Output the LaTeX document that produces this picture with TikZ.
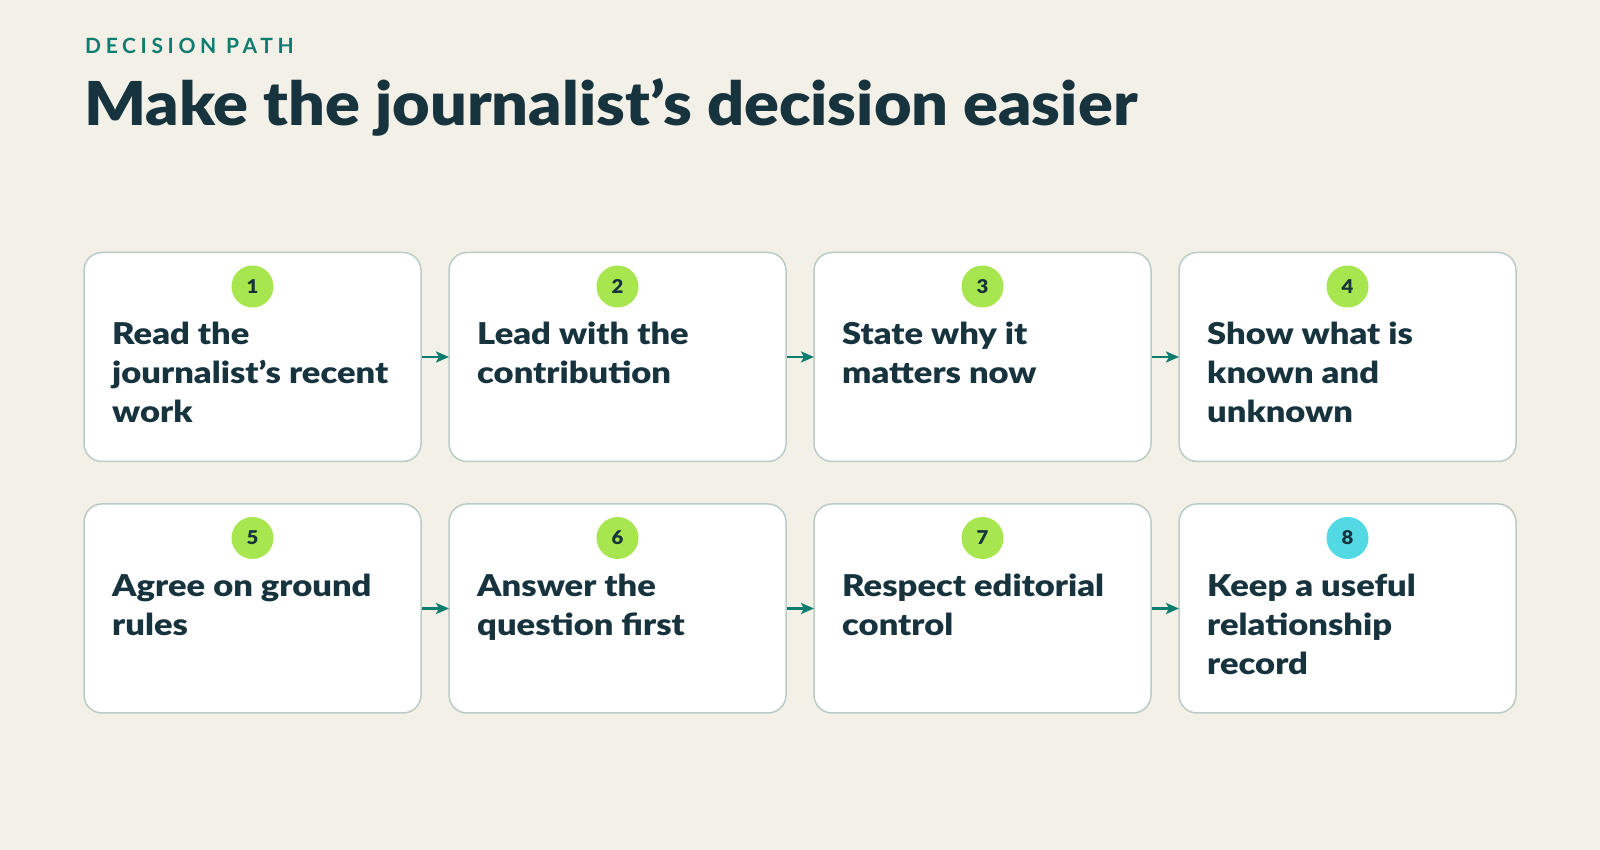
\documentclass[tikz,border=0pt]{standalone}
\usepackage{fontspec}
\setmainfont{Lato}
\newfontfamily\kickfont[LetterSpace=22]{Lato Bold}
\IfFontExistsTF{Lato Black}
  {\newfontfamily\heavy[FakeStretch=1.15]{Lato Black}
   \newfontfamily\headfont[FakeStretch=1.07]{Lato Black}}
  {\newfontfamily\heavy[FakeStretch=1.225]{Lato Bold}
   \newfontfamily\headfont[FakeStretch=1.14]{Lato Bold}}
\usetikzlibrary{chains,arrows.meta}

\definecolor{paper}{HTML}{F3F0E8}
\definecolor{ink}{HTML}{17333D}
\definecolor{kicker}{HTML}{0E7C6E}
\definecolor{edge}{HTML}{BCCBC6}
\definecolor{lime}{HTML}{A8E64F}
\definecolor{aqua}{HTML}{52D9E3}

\begin{document}
\begin{tikzpicture}[x=1pt, y=1pt,
node distance=28pt,
    card/.style = {rectangle, draw=edge, fill=white, line width=1.5pt,% step boxes (chain)
                rounded corners=18pt, minimum width=337pt,
                minimum height=209pt, outer sep=0pt, on chain},
    num/.style = {circle, fill=lime, minimum size=42pt, inner sep=0pt,
                text=ink, font=\headfont\fontsize{19}{19}\selectfont},
    txt/.style = {anchor=north west, align=left, inner sep=0pt, text=ink,
                font=\heavy\fontsize{30}{39}\selectfont,
                execute at begin node=\strut},
    link/.style = {draw=kicker, line width=2.5pt,
                -{Stealth[length=13pt,width=11pt,inset=3pt]}},
                        ]
\fill[paper] (0,0) rectangle (1600,850);
\useasboundingbox (0,0) rectangle (1600,850);
\node[anchor=base west, inner sep=0pt, text=kicker,
      font=\kickfont\fontsize{21}{21}\selectfont] (kick) at (85,796) {DECISION PATH};
\node[anchor=base west, inner sep=0pt, text=ink,
      font=\headfont\fontsize{60.5}{60.5}\selectfont] (title) at (84,724)
      {Make the journalist’s decision easier};
% first row
\begin{scope}[start chain = A going right]
\node[card] at (252.5,493) {};
\foreach \i in {2,3,4}
    \node[card] {};
\end{scope}
% second row
\begin{scope}[start chain = B going right]
\node[card] at (252.5,241.5) {};
\foreach \i in {2,3,4}
    \node[card] {};
\end{scope}
\foreach \i/\t in {1/{Read the\\journalist’s recent\\work},
                   2/{Lead with the\\contribution},
                   3/{State why it\\matters now},
                   4/{Show what is\\known and\\unknown}}% <-- content of first row
{
    \node[num] (nA\i) at ([yshift=-34pt]A-\i.north) {\i};
    \node[txt] (tA\i) at ([xshift=28pt,yshift=-69.5pt]A-\i.north west) {\t};
}
\foreach \i/\n/\c/\t in {1/5/lime/{Agree on ground\\rules},
                         2/6/lime/{Answer the\\question first},
                         3/7/lime/{Respect editorial\\control},
                         4/8/aqua/{Keep a useful\\relationship\\record}}% <-- content of second row
{
    \node[num, fill=\c] (nB\i) at ([yshift=-34pt]B-\i.north) {\n};
    \node[txt] (tB\i) at ([xshift=28pt,yshift=-69.5pt]B-\i.north west) {\t};
}
\foreach \i [count=\j from 2] in {1,2,3}
{
    \draw[link] ([xshift=1pt]A-\i.east) -- (A-\j.west);
    \draw[link] ([xshift=1pt]B-\i.east) -- (B-\j.west);
}
\end{tikzpicture}
\end{document}
